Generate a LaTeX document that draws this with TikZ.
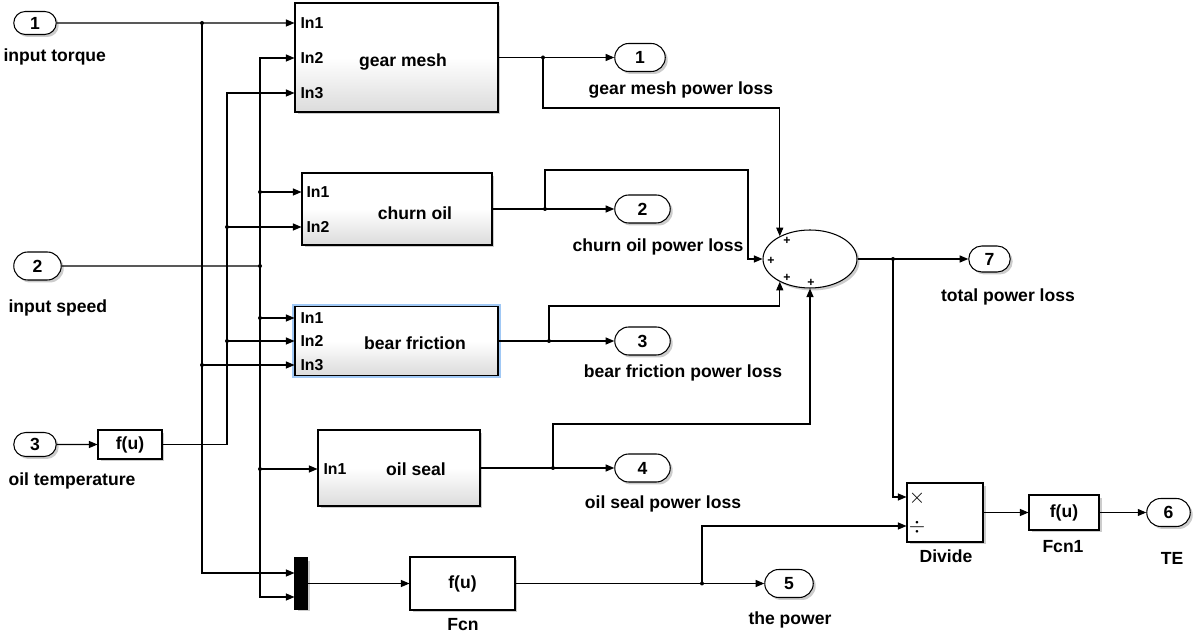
\documentclass[tikz,border=0pt]{standalone}
\usepackage{fontspec}
\setmainfont{Liberation Sans}
\usetikzlibrary{arrows.meta,shapes.geometric,shapes.misc,shadows}
\definecolor{selblue}{RGB}{160,200,245}

\begin{document}
\begin{tikzpicture}[
	x = 0.02cm, y = -0.02cm,
	line width = 0.6pt,
	>={Triangle[length=0.17cm,width=0.14cm]},
	every node/.style = {font=\fontsize{10}{12}\selectfont\bfseries},
	blkshadow/.style = {drop shadow={shadow xshift=0.05cm,shadow yshift=-0.05cm,opacity=0.4}},
	port/.style = {rounded rectangle, draw, fill=white, blkshadow, inner sep=1pt, minimum height=0.56cm},
	block/.style = {rectangle, draw, blkshadow, top color=white, bottom color=gray!28, middle color=white, inner sep=0pt},
	fblock/.style = {rectangle, draw, fill=white, blkshadow, inner sep=0pt},
	inlbl/.style = {anchor=west, inner sep=0pt, font=\fontsize{9}{11}\selectfont\bfseries},
	lbl/.style = {inner sep=0pt},
	plus/.style = {inner sep=0pt, font=\fontsize{7}{7}\selectfont\bfseries},
	]

	\useasboundingbox (0,0) rectangle (1200,634);

	\def\xt{202}
	\def\xo{227}
	\def\xs{260}

	\node[port, minimum width=0.92cm, minimum height=0.46cm] (in1) at (35,23) {1};
	\node[port, minimum width=1.02cm] (in2) at (37.5,266) {2};
	\node[port, minimum width=0.92cm, minimum height=0.48cm] (in3) at (35,444.5) {3};
	\node[lbl, anchor=west] (lin1) at (3,57) {input torque};
	\node[lbl, anchor=west] (lin2) at (8,308) {input speed};
	\node[lbl, anchor=west] (lin3) at (8,481) {oil temperature};

	\node[block, minimum width=4.06cm, minimum height=2.18cm] (gear) at (396.5,57.5) {};
	\node (gearlbl) at (403,62) {gear mesh};
	\node[inlbl] (gin1) at (300,23) {In1};
	\node[inlbl] (gin2) at (300,58) {In2};
	\node[inlbl] (gin3) at (300,93) {In3};

	\node[block, minimum width=3.8cm, minimum height=1.44cm] (churn) at (397,209) {};
	\node (churnlbl) at (415,213) {churn oil};
	\node[inlbl] (cin1) at (306,192) {In1};
	\node[inlbl] (cin2) at (306,227) {In2};

	\node[block, minimum width=4.06cm, minimum height=1.38cm, preaction={draw=selblue, line width=3.4pt}] (bear) at (396.5,341) {};
	\node (bearlbl) at (415,343) {bear friction};
	\node[inlbl] (bin1) at (300,318) {In1};
	\node[inlbl] (bin2) at (300,341) {In2};
	\node[inlbl] (bin3) at (300,365) {In3};

	\node[block, minimum width=3.24cm, minimum height=1.52cm] (seal) at (399,468) {};
	\node (seallbl) at (416,469) {oil seal};
	\node[inlbl] (sin1) at (323,469) {In1};

	\node[fblock, minimum width=1.28cm, minimum height=0.58cm] (fu) at (130,444.5) {f(u)};
	\node[fblock, fill=black, minimum width=0.24cm, minimum height=1.02cm] (mux) at (301,583.5) {};
	\node[fblock, minimum width=2.1cm, minimum height=1.06cm] (fcn) at (462.5,583.5) {f(u)};
	\node[lbl] (lfcn) at (463,625) {Fcn};

	\node[ellipse, draw, fill=white, blkshadow, inner sep=0pt, minimum width=1.88cm, minimum height=1.16cm] (sum) at (810,259) {};
	\foreach \p [count=\i] in {(787,241),(771,261),(787,278),(811,283)}
		\node[plus] (pl\i) at \p {+};

	\node[fblock, minimum width=1.52cm, minimum height=1.18cm] (divide) at (945,512.5) {};
	\node[inner sep=0pt, font=\large] (mul) at (917,498) {$\times$};
	\node[inner sep=0pt, font=\large] (dvd) at (917,527) {$\div$};
	\node[lbl] (ldiv) at (946,556) {Divide};
	\node[fblock, minimum width=1.4cm, minimum height=0.7cm] (fcn1) at (1064,512.5) {f(u)};
	\node[lbl] (lfcn1) at (1063,547) {Fcn1};

	\node[port, minimum width=1.08cm] (out1) at (640,57.5) {1};
	\node[port, minimum width=1.18cm] (out2) at (642.5,209) {2};
	\node[port, minimum width=1.18cm] (out3) at (642.5,341) {3};
	\node[port, minimum width=1.18cm] (out4) at (642.5,468) {4};
	\node[port, minimum width=1.04cm] (out5) at (789,583.5) {5};
	\node[port, minimum width=0.94cm] (out6) at (1168.5,512.5) {6};
	\node[port, minimum width=0.9cm, minimum height=0.52cm] (out7) at (989.5,259) {7};
	\node[lbl] (lout1) at (681,90) {gear mesh power loss};
	\node[lbl] (lout2) at (658,247) {churn oil power loss};
	\node[lbl] (lout3) at (683,373) {bear friction power loss};
	\node[lbl] (lout4) at (663,504) {oil seal power loss};
	\node[lbl] (lout5) at (790,620) {the power};
	\node[lbl] (lout6) at (1172,558) {TE};
	\node[lbl] (lout7) at (1008,297) {total power loss};

	\draw[->] (in1) -- (gear.west |- in1);
	\draw[->] (\xt,23) |- (mux.west |- 0,573);
	\draw[->] (\xt,365) -- (bear.west |- 0,365);
	\draw (in2) -- (\xs,266);
	\draw[<->] (mux.west |- 0,597) -| (\xs,58) -- (gear.west |- 0,58);
	\draw[->] (\xs,192) -- (churn.west |- 0,192);
	\draw[->] (\xs,318) -- (bear.west |- 0,318);
	\draw[->] (\xs,469) -- (seal.west |- 0,469);
	\draw[->] (in3) -- (fu);
	\draw[->] (fu.east) -| (\xo,93) -- (gear.west |- 0,93);
	\draw[->] (\xo,227) -- (churn.west |- 0,227);
	\draw[->] (\xo,341) -- (bear.west |- 0,341);

	\draw[->] (gear) -- (out1);
	\draw[->] (543,57.5) |- (sum.143 |- 0,108) -- (sum.143);
	\draw[->] (churn) -- (out2);
	\draw[->] (545,209) |- (748,170) |- (sum.west);
	\draw[->] (bear) -- (out3);
	\draw[->] (549,341) |- (sum.217 |- 0,306) -- (sum.217);
	\draw[->] (seal) -- (out4);
	\draw[->] (553,468) |- (sum.south |- 0,424) -- (sum.south);
	\draw[->] (sum) -- (out7);
	\draw[->] (893,259) |- (divide.west |- 0,497);
	\draw[->] (mux) -- (fcn);
	\draw[->] (fcn) -- (out5);
	\draw[->] (702,583.5) |- (divide.west |- 0,526);
	\draw[->] (divide) -- (fcn1);
	\draw[->] (fcn1) -- (out6);

	\foreach \d in {(\xt,23),(\xt,365),(\xs,266),(\xs,192),(\xs,318),(\xs,469),(\xo,227),(\xo,341),(543,57.5),(545,209),(549,341),(553,468),(893,259),(702,583.5)}
		\fill \d circle (0.04cm);

\end{tikzpicture}
\end{document}
